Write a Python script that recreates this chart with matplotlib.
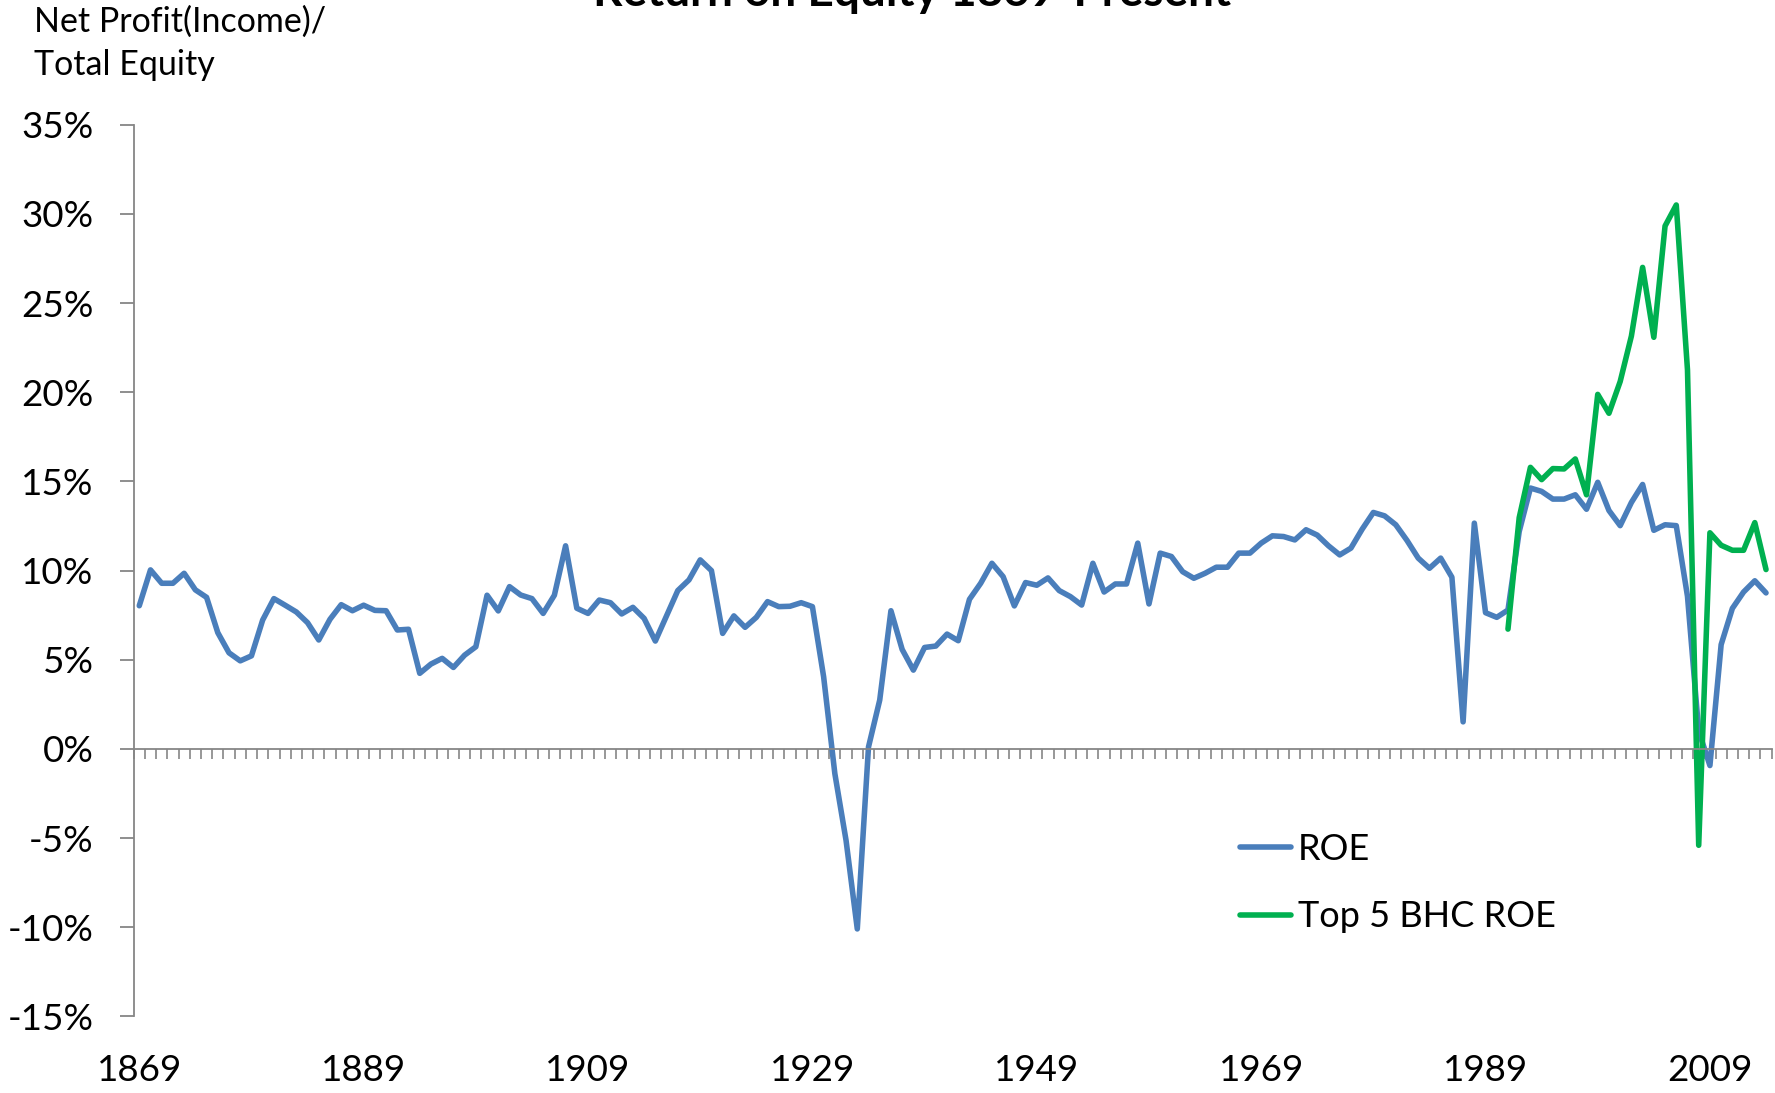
import numpy as np
import matplotlib.pyplot as plt
from matplotlib.ticker import MultipleLocator, FixedLocator, FuncFormatter

# yearly series, percent
years = list(range(1869, 2015))
roe = [8.03, 10.04, 9.29, 9.29, 9.85, 8.92, 8.5, 6.52, 5.39, 4.94,
       5.22, 7.23, 8.43, 8.06, 7.68, 7.08, 6.11, 7.27, 8.09, 7.75,
       8.06, 7.77, 7.75, 6.67, 6.71, 4.24, 4.76, 5.08, 4.57, 5.26,
       5.73, 8.62, 7.74, 9.1, 8.63, 8.43, 7.6, 8.62, 11.39, 7.89,
       7.6, 8.35, 8.2, 7.57, 7.94, 7.32, 6.05, 7.46, 8.88, 9.48,
       10.6, 10.0, 6.48, 7.46, 6.82, 7.38, 8.26, 7.98, 8.0, 8.2,
       7.98, 4.05, -1.38, -5.13, -10.09, 0.11, 2.74, 7.75, 5.58, 4.42,
       5.69, 5.77, 6.44, 6.07, 8.39, 9.29, 10.41, 9.66, 8.02, 9.33,
       9.18, 9.59, 8.88, 8.54, 8.07, 10.41, 8.8, 9.25, 9.25, 11.54,
       8.13, 10.98, 10.79, 9.94, 9.57, 9.85, 10.19, 10.19, 10.98, 10.98,
       11.54, 11.95, 11.91, 11.72, 12.29, 11.99, 11.39, 10.88, 11.26, 12.32,
       13.26, 13.07, 12.57, 11.69, 10.7, 10.13, 10.7, 9.63, 1.52, 12.66,
       7.64, 7.38, 7.79, 12.19, 14.63, 14.44, 14.01, 14.01, 14.25, 13.44,
       14.95, 13.37, 12.52, 13.82, 14.83, 12.26, 12.57, 12.52, 8.56, 1.0,
       -0.93, 5.85, 7.88, 8.8, 9.43, 8.75]

bhc_years = list(range(1991, 2015))
bhc_roe = [6.72, 12.97, 15.79, 15.1, 15.72, 15.7, 16.26, 14.25, 19.88, 18.82,
           20.6, 23.15, 27.0, 23.08, 29.32, 30.5, 21.25, -5.4, 12.12, 11.42,
           11.14, 11.14, 12.69, 10.06]

label_years = [1869, 1889, 1909, 1929, 1949, 1969, 1989, 2009]

BLUE = '#4A7EBB'
GREEN = '#00B050'
GREY = '#868686'

plt.rcParams['font.family'] = ['Lato', 'DejaVu Sans']

fig = plt.figure(figsize=(17.75, 10.93), dpi=100)
ax = fig.add_axes([0.0753, 0.0700, 0.9228, 0.8159])

x = np.arange(len(years))
ax.plot(x, roe, color=BLUE, lw=4.0, solid_capstyle='round',
        solid_joinstyle='round', label='ROE')
bx = [years.index(y) for y in bhc_years]
ax.plot(bx, bhc_roe, color=GREEN, lw=4.0, solid_capstyle='round',
        solid_joinstyle='round', label='Top 5 BHC ROE')

ax.set_xlim(-0.5, len(years) - 0.5)
ax.set_ylim(-15, 35)

# axes look like the spreadsheet chart
for s in ['top', 'right']:
    ax.spines[s].set_visible(False)
ax.spines['bottom'].set_position(('data', 0))
for s in ['left', 'bottom']:
    ax.spines[s].set_color(GREY)
    ax.spines[s].set_linewidth(1.3)

ax.set_xticks([])
ax.xaxis.set_minor_locator(FixedLocator(np.arange(-0.5, len(years), 1)))
ax.tick_params(axis='x', which='minor', direction='out', length=7.5,
               width=1.2, color=GREY)

ax.yaxis.set_major_locator(MultipleLocator(5))
ax.yaxis.set_major_formatter(FuncFormatter(lambda v, p: f'{v:.0f}%'))
ax.tick_params(axis='y', direction='out', length=10, width=1.3, color=GREY,
               labelsize=26.5, pad=19)

for yr in label_years:
    ax.text(years.index(yr), -0.061, str(yr), transform=ax.get_xaxis_transform(),
            ha='center', va='center', fontsize=26.5)

fig.text(0.0192, 0.9605, 'Net Profit(Income)/\nTotal Equity', ha='left',
         va='center', fontsize=24.5, linespacing=1.45)
fig.text(0.514, 0.9945, 'Return on Equity 1869-Present', ha='center',
         va='baseline', fontsize=33, fontweight='bold')

ax.legend(loc='center left', bbox_to_anchor=(1240 / 1775, 1 - 883 / 1093),
          bbox_transform=fig.transFigure, frameon=False, fontsize=26,
          handlelength=1.4, handletextpad=0.2, labelspacing=0.95,
          borderpad=0, borderaxespad=0)

fig.savefig('out.png', dpi=100)
